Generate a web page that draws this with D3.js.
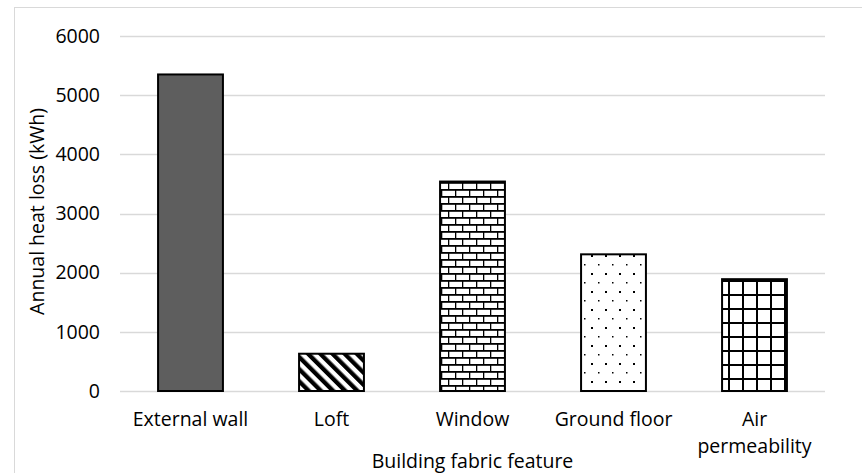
<!DOCTYPE html>
<html><head><meta charset="utf-8">
<script src="https://cdn.jsdelivr.net/npm/d3@7"></script>
<style>
body{margin:0;background:#fff;}
svg{display:block;}
text{font-family:"Open Sans",sans-serif;fill:#000;}
</style></head>
<body>
<svg id="c" width="862" height="473"></svg>
<script>
const categories = ["External wall","Loft","Window","Ground floor","Air permeability"];
const categoryLines = [["External wall"],["Loft"],["Window"],["Ground floor"],["Air","permeability"]];
const values = [5350, 630, 3540, 2310, 1890];
const patterns = ["solid","diag","brick","dots","grid"];
const yTicks = [0,1000,2000,3000,4000,5000,6000];
const yTitle = "Annual heat loss (kWh)";
const xTitle = "Building fabric feature";

(function(){
const svg = d3.select("#c");
const W=862,H=473;
const pl=120,pr=825,pt=36,pb0=391;
const fs="19.5px";

svg.append("rect").attr("x",14.5).attr("y",7.5).attr("width",W).attr("height",H)
  .attr("fill","#fff").attr("stroke","#d9d9d9").attr("stroke-width",1);

const defs = svg.append("defs");
// diagonal
const pd = defs.append("pattern").attr("id","diag").attr("patternUnits","userSpaceOnUse")
  .attr("width",8.6).attr("height",8.6).attr("patternTransform","rotate(-45)");
pd.append("rect").attr("width",8.6).attr("height",8.6).attr("fill","#fff");
pd.append("rect").attr("x",0).attr("y",0).attr("width",4.3).attr("height",8.6).attr("fill","#000");
// brick
const pb = defs.append("pattern").attr("id","brick").attr("patternUnits","userSpaceOnUse")
  .attr("width",14).attr("height",14).attr("x",0).attr("y",0);
pb.append("rect").attr("width",14).attr("height",14).attr("fill","#fff");
pb.append("rect").attr("x",0).attr("y",0).attr("width",14).attr("height",1.8).attr("fill","#000");
pb.append("rect").attr("x",0).attr("y",7).attr("width",14).attr("height",1.8).attr("fill","#000");
pb.append("rect").attr("x",0).attr("y",0).attr("width",1.3).attr("height",7).attr("fill","#000");
pb.append("rect").attr("x",7).attr("y",7).attr("width",1.3).attr("height",7).attr("fill","#000");
// dots
const pdt = defs.append("pattern").attr("id","dots").attr("patternUnits","userSpaceOnUse")
  .attr("width",14).attr("height",18);
pdt.append("rect").attr("width",14).attr("height",18).attr("fill","#fff");
pdt.append("rect").attr("x",3).attr("y",3).attr("width",2).attr("height",2).attr("fill","#000");
pdt.append("rect").attr("x",10).attr("y",12).attr("width",1.5).attr("height",1.5).attr("fill","#000");
// grid
const pg = defs.append("pattern").attr("id","grid").attr("patternUnits","userSpaceOnUse")
  .attr("width",14).attr("height",14);
pg.append("rect").attr("width",14).attr("height",14).attr("fill","#fff");
pg.append("rect").attr("x",0).attr("y",0).attr("width",14).attr("height",2).attr("fill","#000");
pg.append("rect").attr("x",0).attr("y",0).attr("width",2).attr("height",14).attr("fill","#000");

const x = d3.scaleBand().domain(categories).range([pl,pr]).paddingInner(0.54).paddingOuter(0.27);
const y = d3.scaleLinear().domain([0,6000]).range([pb0,pt]);

// gridlines
svg.append("g").selectAll("line").data(yTicks).join("line")
  .attr("x1",pl).attr("x2",pr)
  .attr("y1",d=>Math.round(y(d))+0.5).attr("y2",d=>Math.round(y(d))+0.5)
  .attr("stroke","#d9d9d9").attr("stroke-width",1.3);

// y axis labels
const yAxis = d3.axisLeft(y).tickValues(yTicks).tickSize(0).tickPadding(0).tickFormat(d3.format("d"));
const ga = svg.append("g").attr("transform",`translate(100,0)`).call(yAxis);
ga.select(".domain").remove();
ga.selectAll("text").style("font-family","'Open Sans',sans-serif").style("font-size",fs).attr("fill","#000");

// bars
const data = categories.map((c,i)=>({c,v:values[i],p:patterns[i],lines:categoryLines[i]}));
svg.append("g").selectAll("rect").data(data).join("rect")
  .attr("x",d=>x(d.c)).attr("width",x.bandwidth())
  .attr("y",d=>y(d.v)).attr("height",d=>y(0)-y(d.v))
  .attr("fill",d=>d.p==="solid"?"#5e5e5e":`url(#${d.p})`)
  .attr("stroke","#000").attr("stroke-width",2);

// x category labels
const xl = svg.append("g");
data.forEach(d=>{
  const cx = x(d.c)+x.bandwidth()/2;
  d.lines.forEach((w,i)=>{
    xl.append("text").attr("x",cx).attr("y",426+i*27).attr("text-anchor","middle")
      .style("font-size",fs).text(w);
  });
});

// titles
svg.append("text").attr("transform",`translate(44,${(pt+pb0)/2 - 2}) rotate(-90)`)
  .attr("text-anchor","middle").style("font-size",fs).text(yTitle);
svg.append("text").attr("x",(pl+pr)/2).attr("y",468).attr("text-anchor","middle")
  .style("font-size",fs).text(xTitle);
})();
</script>
</body></html>
